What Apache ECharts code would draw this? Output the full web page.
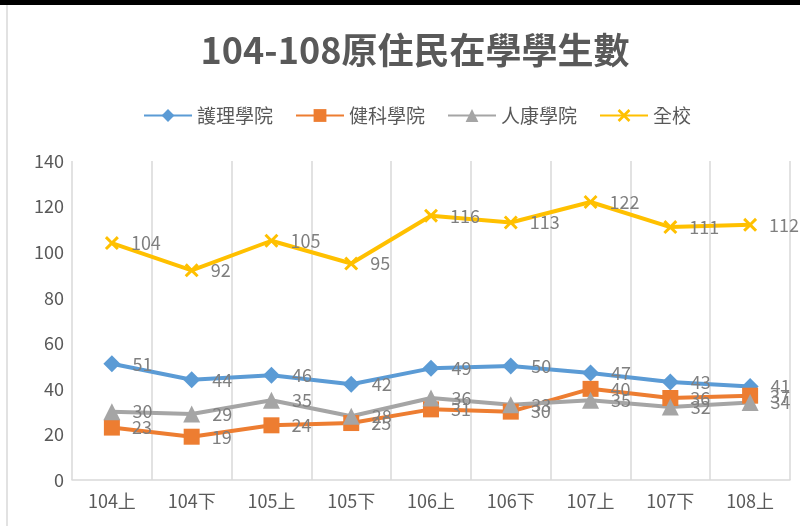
<!DOCTYPE html>
<html>
<head>
<meta charset="utf-8">
<script src="https://cdn.jsdelivr.net/npm/echarts@6/dist/echarts.min.js"></script>
<style>
html, body { margin: 0; padding: 0; background: #fff; }
#chart { width: 800px; height: 526px; }
</style>
</head>
<body>
<div id="chart"></div>
<script>
var categories = ['104上', '104下', '105上', '105下', '106上', '106下', '107上', '107下', '108上'];
var nursing = [51, 44, 46, 42, 49, 50, 47, 43, 41];
var healthTech = [23, 19, 24, 25, 31, 30, 40, 36, 37];
var humanHealth = [30, 29, 35, 28, 36, 33, 35, 32, 34];
var wholeSchool = [104, 92, 105, 95, 116, 113, 122, 111, 112];
var yTicks = [0, 20, 40, 60, 80, 100, 120, 140];

var font = '"Noto Sans CJK TC", "Noto Sans", sans-serif';
var labelStyle = {
	show: true,
	position: 'right',
	distance: 12,
	color: '#7f7f7f',
	fontSize: 18,
	fontFamily: font
};
var crossPath = 'path://M0,1.5L1.5,0L5,3.5L8.5,0L10,1.5L6.5,5L10,8.5L8.5,10L5,6.5L1.5,10L0,8.5L3.5,5Z';

function makeSeries(name, data, color, symbol, size) {
	return {
		name: name,
		type: 'line',
		data: data,
		symbol: symbol,
		symbolSize: size,
		lineStyle: { color: color, width: 4 },
		itemStyle: { color: color },
		label: labelStyle,
		animation: false
	};
}

var myChart = echarts.init(document.getElementById('chart'));
myChart.setOption({
	backgroundColor: '#fff',
	title: {
		text: '104-108原住民在學學生數',
		left: 410,
		top: 27,
		textAlign: 'center',
		textStyle: { fontSize: 36, fontWeight: 'bold', color: '#595959', fontFamily: font }
	},
	legend: {
		top: 101,
		left: 138,
		itemWidth: 48,
		itemHeight: 16,
		itemGap: 22,
		textStyle: { fontSize: 19, color: '#595959', fontFamily: font },
		data: ['護理學院', '健科學院', '人康學院', '全校']
	},
	grid: { left: 72, right: 10, top: 161, bottom: 46 },
	xAxis: {
		type: 'category',
		data: categories,
		boundaryGap: true,
		axisLine: { lineStyle: { color: '#d9d9d9', width: 1.5 } },
		axisTick: { show: false },
		splitLine: { show: true, lineStyle: { color: '#d9d9d9', width: 1.5 } },
		axisLabel: { color: '#595959', fontSize: 18, margin: 12, fontFamily: font }
	},
	yAxis: {
		type: 'value',
		min: yTicks[0],
		max: yTicks[yTicks.length - 1],
		interval: 20,
		axisLine: { show: false },
		axisTick: { show: false },
		splitLine: { show: false },
		axisLabel: { color: '#595959', fontSize: 18, margin: 8, fontFamily: font }
	},
	graphic: [
		{ type: 'rect', shape: { x: 0, y: 0, width: 800, height: 5 }, style: { fill: '#000' } },
		{ type: 'line', shape: { x1: 7, y1: 5, x2: 7, y2: 526 }, style: { stroke: '#d9d9d9', lineWidth: 1.5 } }
	],
	series: [
		makeSeries('護理學院', nursing, '#5B9BD5', 'diamond', 17),
		makeSeries('健科學院', healthTech, '#ED7D31', 'rect', 16),
		makeSeries('人康學院', humanHealth, '#A5A5A5', 'triangle', 17),
		makeSeries('全校', wholeSchool, '#FFC000', crossPath, 14)
	]
});
</script>
</body>
</html>
